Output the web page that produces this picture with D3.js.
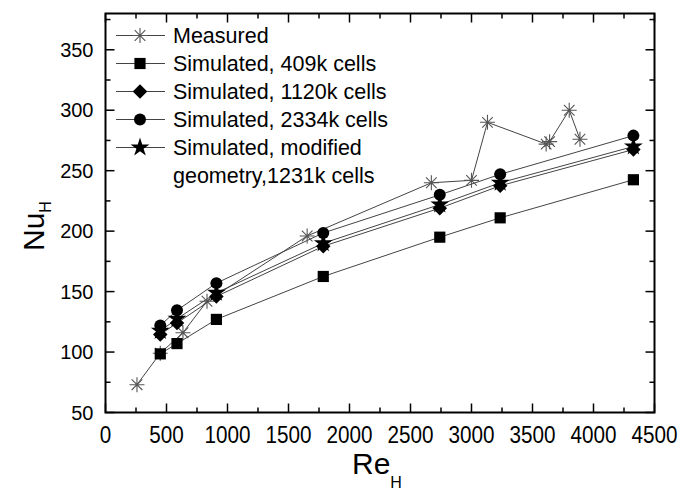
<!DOCTYPE html>
<html>
<head>
<meta charset="utf-8">
<script src="https://cdn.jsdelivr.net/npm/d3@7"></script>
<style>
  body { margin: 0; background: #fff; }
  text { font-family: Arial, "Liberation Sans", sans-serif; }
</style>
</head>
<body>
<div id="chart"></div>
<script>
// measured data
let measuredRe = [258, 449, 635, 832, 1653, 2671, 3000, 3131, 3612, 3640, 3801, 3889]
let measuredNu = [73, 99, 116, 142, 196, 240, 242, 290, 272, 274, 300, 276]

// simulated cases share the same Re values
let simRe = [449, 586, 909, 1785, 2740, 3235, 4327]
let nu409k = [98.5, 107, 127, 162.5, 195, 211, 242.5]
let nu1120k = [114.5, 124, 146, 187.5, 219, 237.5, 267.5]
let nu2334k = [122, 134.5, 157, 198.5, 230, 247, 279]
let nuModified = [117.5, 127.5, 149, 190, 222, 240, 270]

let xTicks = [0, 500, 1000, 1500, 2000, 2500, 3000, 3500, 4000, 4500]
let yTicks = [50, 100, 150, 200, 250, 300, 350]

let legendLabels = ["Measured", "Simulated, 409k cells", "Simulated, 1120k cells",
    "Simulated, 2334k cells", "Simulated, modified"]

let width = 694, height = 491
let margin = { left: 105.5, right: 39.5, top: 13.5, bottom: 78.5 }

let svg = d3.select('#chart').append('svg')
    .attr('width', width)
    .attr('height', height)

let x = d3.scaleLinear()
    .domain([0, 4500])
    .range([margin.left, width - margin.right])

let y = d3.scaleLinear()
    .domain([50, 380])
    .range([height - margin.bottom, margin.top])

// marker shapes
function asterisk(g, s) {
    let r = s / 2
    let p = ''
    for (let a = 0; a < 180; a += 45) {
        let t = a * Math.PI / 180
        p += 'M' + (-r * Math.cos(t)) + ',' + (-r * Math.sin(t)) + 'L' + (r * Math.cos(t)) + ',' + (r * Math.sin(t))
    }
    g.append('path').attr('d', p).attr('stroke', '#555').attr('stroke-width', 1.1).attr('fill', 'none')
}
function square(g) {
    g.append('path').attr('d', d3.symbol(d3.symbolSquare, 125)()).attr('fill', '#000')
}
function diamond(g) {
    g.append('path').attr('d', d3.symbol(d3.symbolSquare, 105)()).attr('transform', 'rotate(45)').attr('fill', '#000')
}
function circle(g) {
    g.append('circle').attr('r', 6).attr('fill', '#000')
}
function star(g) {
    g.append('path').attr('d', d3.symbol(d3.symbolStar, 110)()).attr('fill', '#000')
}

let line = d3.line()
    .x(function (d) { return x(d[0]) })
    .y(function (d) { return y(d[1]) })

let series = [
    { re: measuredRe, nu: measuredNu, mark: function (g) { asterisk(g, 15) } },
    { re: simRe, nu: nu409k, mark: square },
    { re: simRe, nu: nuModified, mark: star },
    { re: simRe, nu: nu1120k, mark: diamond },
    { re: simRe, nu: nu2334k, mark: circle }
]

let plot = svg.append('g')

series.forEach(function (s) {
    let pts = s.re.map(function (r, i) { return [r, s.nu[i]] })
    plot.append('path')
        .datum(pts)
        .attr('d', line)
        .attr('fill', 'none')
        .attr('stroke', '#444')
        .attr('stroke-width', 1)
})

series.forEach(function (s) {
    s.re.forEach(function (r, i) {
        let g = plot.append('g').attr('transform', 'translate(' + x(r) + ',' + y(s.nu[i]) + ')')
        s.mark(g)
    })
})

// axes: inward ticks on all four sides
let x0 = x.range()[0], x1 = x.range()[1], y0 = y.range()[0], y1 = y.range()[1]

let xMinor = d3.range(250, 4500, 500)
let yMinor = d3.range(75, 380, 50)

let axes = svg.append('g').attr('stroke', '#000')
xTicks.forEach(function (t) {
    axes.append('line').attr('x1', x(t)).attr('x2', x(t)).attr('y1', y0).attr('y2', y0 - 9).attr('stroke-width', 1.5)
    axes.append('line').attr('x1', x(t)).attr('x2', x(t)).attr('y1', y1).attr('y2', y1 + 9).attr('stroke-width', 1.5)
})
xMinor.forEach(function (t) {
    axes.append('line').attr('x1', x(t)).attr('x2', x(t)).attr('y1', y0).attr('y2', y0 - 5).attr('stroke-width', 1.5)
    axes.append('line').attr('x1', x(t)).attr('x2', x(t)).attr('y1', y1).attr('y2', y1 + 5).attr('stroke-width', 1.5)
})
yTicks.forEach(function (t) {
    axes.append('line').attr('y1', y(t)).attr('y2', y(t)).attr('x1', x0).attr('x2', x0 + 9).attr('stroke-width', 1.5)
    axes.append('line').attr('y1', y(t)).attr('y2', y(t)).attr('x1', x1).attr('x2', x1 - 9).attr('stroke-width', 1.5)
})
yMinor.forEach(function (t) {
    axes.append('line').attr('y1', y(t)).attr('y2', y(t)).attr('x1', x0).attr('x2', x0 + 5).attr('stroke-width', 1.5)
    axes.append('line').attr('y1', y(t)).attr('y2', y(t)).attr('x1', x1).attr('x2', x1 - 5).attr('stroke-width', 1.5)
})
axes.append('rect')
    .attr('x', x0).attr('y', y1)
    .attr('width', x1 - x0).attr('height', y0 - y1)
    .attr('fill', 'none').attr('stroke-width', 2)

// tick labels (x labels are set narrow, like the original)
svg.selectAll('.xl').data(xTicks).enter().append('text')
    .attr('x', function (d) { return x(d) })
    .attr('y', y0 + 30.5)
    .attr('text-anchor', 'middle')
    .attr('font-size', 23)
    .attr('lengthAdjust', 'spacingAndGlyphs')
    .attr('textLength', function (d) { return String(d).length * 11.5 })
    .text(function (d) { return d })

svg.selectAll('.yl').data(yTicks).enter().append('text')
    .attr('x', x0 - 12)
    .attr('y', function (d) { return y(d) + 7 })
    .attr('text-anchor', 'end')
    .attr('font-size', 20)
    .text(function (d) { return d })

// axis titles
let xt = svg.append('text')
    .attr('x', 352).attr('y', 474)
    .attr('font-size', 30)
xt.append('tspan').text('Re')
xt.append('tspan').attr('font-size', 16).attr('dy', 14).text('H')

let yt = svg.append('text')
    .attr('transform', 'translate(44,251) rotate(-90)')
    .attr('font-size', 30)
yt.append('tspan').text('Nu')
yt.append('tspan').attr('font-size', 16).attr('dy', 7).text('H')

// legend
let legendMarks = [function (g) { asterisk(g, 15) }, square, diamond, circle, star]
let legend = svg.append('g')
legendLabels.forEach(function (label, i) {
    let ly = 35.5 + i * 28
    let g = legend.append('g')
    g.append('line').attr('x1', 116).attr('x2', 165).attr('y1', ly).attr('y2', ly)
        .attr('stroke', '#444').attr('stroke-width', 1)
    legendMarks[i](g.append('g').attr('transform', 'translate(140,' + ly + ')'))
    g.append('text').attr('x', 173).attr('y', ly + 7.5).attr('font-size', 21.5).text(label)
})
legend.append('text').attr('x', 173).attr('y', 35.5 + 5 * 28 + 7.5).attr('font-size', 21.5)
    .text('geometry,1231k cells')
</script>
</body>
</html>
